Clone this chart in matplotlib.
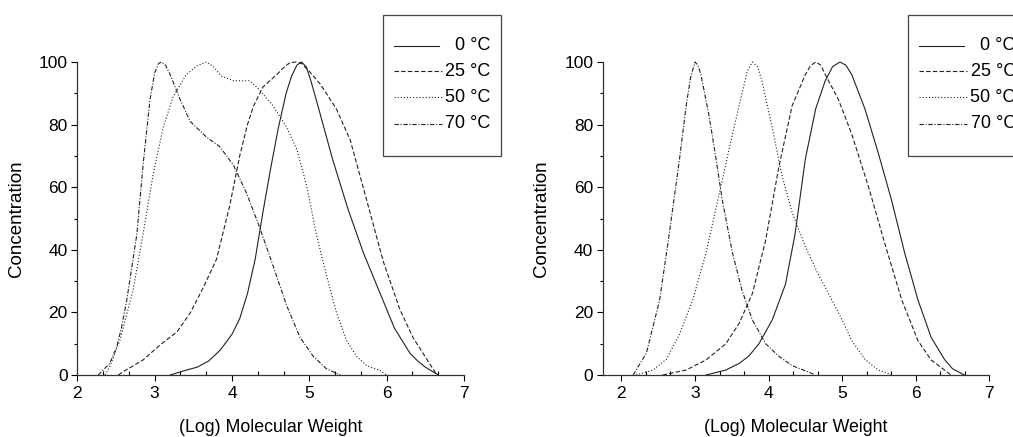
import matplotlib
matplotlib.use("Agg")
import matplotlib.pyplot as plt
from matplotlib.ticker import MultipleLocator
from matplotlib.patches import Rectangle
from matplotlib.lines import Line2D

plt.rcParams["font.family"] = ["Liberation Sans", "DejaVu Sans"]

labels = ["0 °C", "25 °C", "50 °C", "70 °C"]
styles = ["-", (0, (4, 2)), (0, (1, 1.8)), (0, (4, 1.5, 1, 1.5))]

# left panel
l0_x = [3.2, 3.4, 3.55, 3.7, 3.85, 4.0, 4.1, 4.2, 4.3, 4.4, 4.5, 4.6, 4.7, 4.77, 4.84, 4.9,
        4.96, 5.02, 5.1, 5.2, 5.3, 5.4, 5.5, 5.6, 5.7, 5.8, 5.9, 6.0, 6.1, 6.2, 6.3, 6.4, 6.5, 6.6, 6.67]
l0_y = [0, 1.5, 2.5, 4.5, 8, 13, 18, 26, 37, 52, 66, 79, 90, 95.5, 99, 100,
        98.5, 94, 87, 78, 69, 61, 53, 46, 39, 33, 27, 21, 15, 11, 7, 4.5, 2.5, 1, 0]
l25_x = [2.53, 2.59, 2.85, 3.07, 3.29, 3.46, 3.63, 3.8, 3.97, 4.1, 4.2, 4.28, 4.4, 4.58,
         4.68, 4.75, 4.83, 4.9, 5.0, 5.14, 5.35, 5.53, 5.74, 5.96, 6.17, 6.34, 6.52, 6.65]
l25_y = [0, 1, 4.8, 9.6, 13.8, 19.8, 28, 37, 54, 70, 80, 86, 92, 96,
         98.5, 99.8, 100, 99.5, 97, 93, 85, 75, 56, 36, 21, 12, 5, 0]
l50_x = [2.36, 2.42, 2.55, 2.72, 2.85, 2.98, 3.11, 3.24, 3.41, 3.55, 3.67, 3.76, 3.86, 4.02, 4.23,
         4.36, 4.53, 4.71, 4.84, 4.97, 5.09, 5.22, 5.35, 5.48, 5.61, 5.74, 5.91, 6.0]
l50_y = [0, 2.7, 11, 27, 45, 64, 79, 89, 96, 98.8, 100, 98.5, 95.5, 94, 94,
         91, 86, 79, 72, 60, 45, 32, 20, 11, 6, 3, 1.5, 0]
l70_x = [2.27, 2.42, 2.51, 2.57, 2.64, 2.77, 2.85, 2.94, 3.0, 3.05, 3.09, 3.14, 3.2, 3.33, 3.46,
         3.67, 3.84, 4.02, 4.19, 4.36, 4.53, 4.71, 4.88, 5.05, 5.22, 5.4]
l70_y = [0, 3.7, 9, 15, 24, 45, 67, 88, 96.5, 99.5, 100, 99, 96, 88, 81,
         76, 73, 67, 58, 47, 35, 22, 12, 6, 2, 0]

# right panel
r0_x = [3.15, 3.42, 3.6, 3.73, 3.87, 4.05, 4.23, 4.36, 4.5, 4.64, 4.77, 4.87, 4.97, 5.05, 5.13,
        5.31, 5.49, 5.67, 5.85, 6.03, 6.21, 6.39, 6.5, 6.66]
r0_y = [0, 1.6, 3.7, 6, 10, 17.6, 29, 45, 69, 85, 94, 98.5, 100, 99, 96,
        85, 71, 56, 39, 24, 12, 5, 2, 0]
r25_x = [2.56, 2.88, 3.15, 3.42, 3.6, 3.78, 3.96, 4.14, 4.32, 4.5, 4.57, 4.64, 4.71, 4.77, 4.95,
         5.13, 5.36, 5.58, 5.81, 6.03, 6.21, 6.39, 6.48]
r25_y = [0, 1.6, 4.8, 10, 16.5, 26, 43, 66.5, 86, 96, 98.8, 100, 99, 96, 88,
         77, 60, 42, 24, 11, 4.8, 1.6, 0]
r50_x = [2.2, 2.43, 2.61, 2.79, 2.97, 3.15, 3.33, 3.51, 3.64, 3.71, 3.78, 3.85, 3.91, 4.05, 4.18,
         4.32, 4.5, 4.68, 4.86, 5.0, 5.13, 5.31, 5.49, 5.69]
r50_y = [0, 1.6, 5, 13, 24, 39, 58, 77, 90, 97, 100, 98.5, 94, 79, 64,
         52, 41, 32, 24, 17.6, 11, 5, 1.6, 0]
r70_x = [2.16, 2.34, 2.52, 2.65, 2.79, 2.88, 2.94, 3.0, 3.04, 3.08, 3.19, 3.28, 3.37, 3.51, 3.64,
         3.78, 3.96, 4.14, 4.32, 4.59, 4.63]
r70_y = [0, 7, 24, 45, 69, 86, 95, 100, 99, 96, 83, 70, 56, 39, 27,
         17.6, 10, 6, 3, 0.5, 0]

W, H = 1013, 437
fig = plt.figure(figsize=(W / 100, H / 100), dpi=100)

def fx(px):
    return px / W

def fy(py):
    return 1 - py / H

panels = [
    (77.3, 464.0, [(l0_x, l0_y), (l25_x, l25_y), (l50_x, l50_y), (l70_x, l70_y)], 2.0, 382.7),
    (603.0, 989.3, [(r0_x, r0_y), (r25_x, r25_y), (r50_x, r50_y), (r70_x, r70_y)], 1.75, 908.3),
]

for x0, x1, series, xmin, legx in panels:
    ax = fig.add_axes([fx(x0), fy(375), fx(x1 - x0), (375 - 62) / H])
    for (xs, ys), ls in zip(series, styles):
        ax.plot(xs, ys, color="#222222", lw=0.8, linestyle=ls, clip_on=False)
    ax.set_xlim(xmin, 7)
    ax.set_ylim(0, 100)
    for s in ["top", "right"]:
        ax.spines[s].set_visible(False)
    for s in ["left", "bottom"]:
        ax.spines[s].set_linewidth(0.9)
        ax.spines[s].set_color("#333333")
    ax.xaxis.set_major_locator(MultipleLocator(1))
    ax.xaxis.set_minor_locator(MultipleLocator(1 / 3))
    ax.yaxis.set_major_locator(MultipleLocator(20))
    ax.yaxis.set_minor_locator(MultipleLocator(10))
    ax.tick_params(axis="x", which="major", direction="out", length=4, width=0.8, labelsize=12.5, pad=4)
    ax.tick_params(axis="x", which="minor", direction="in", length=3, width=0.8)
    ax.tick_params(axis="y", which="major", direction="out", length=4, width=0.8, labelsize=12.5, pad=3)
    ax.tick_params(axis="y", which="minor", direction="out", length=2.5, width=0.8)
    ax.set_xlabel("(Log) Molecular Weight", fontsize=12.8, labelpad=13)
    ax.set_ylabel("Concentration", fontsize=13.5, labelpad=10)

    # legend box
    fig.add_artist(Rectangle((fx(legx), fy(155.7)), fx(118), (155.7 - 14.7) / H,
                             transform=fig.transFigure, fill=False, ec="#444444", lw=0.9))
    for i, (lab, ls) in enumerate(zip(labels, styles)):
        yy = fy([45.7, 71, 97, 124][i])
        x_end = 56 if i == 0 else 59
        fig.add_artist(Line2D([fx(legx + 11), fx(legx + x_end)], [yy, yy], transform=fig.transFigure,
                              color="#222222", lw=0.8, linestyle=ls))
        fig.text(fx(legx + 107.5), yy, lab, ha="right", va="center", fontsize=13)

fig.savefig("out.png", dpi=100)
